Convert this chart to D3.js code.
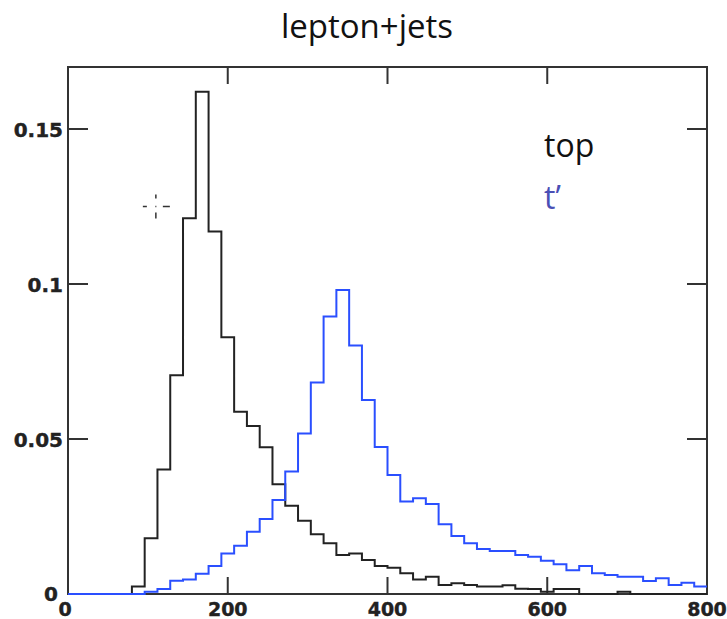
<!DOCTYPE html>
<html>
<head>
<meta charset="utf-8">
<script src="https://cdn.jsdelivr.net/npm/d3@7"></script>
<style>
  body { margin: 0; background: #fff; }
  svg { display: block; }
</style>
</head>
<body>
<div id="chart"></div>
<script>
// histogram: 50 bins of width 16 over [0, 800]
const binEdges = d3.range(0, 801, 16);
const topValues = [
  0, 0, 0, 0, 0, 0.0024, 0.018, 0.0402, 0.0706, 0.1212,
  0.162, 0.1169, 0.0828, 0.0588, 0.0542, 0.0473, 0.0354, 0.0285, 0.0236, 0.0193,
  0.0164, 0.0126, 0.0131, 0.011, 0.009, 0.0085, 0.0067, 0.0047, 0.0056, 0.0029,
  0.0035, 0.0029, 0.0024, 0.0024, 0.0028, 0.0017, 0.0016, 0.0007, 0.0016, 0.0016,
  0, 0, 0, 0.0007, 0, 0, 0, 0, 0, 0
];
const tprimeValues = [
  0, 0, 0, 0, 0, 0, 0.0007, 0.0016, 0.0043, 0.0047,
  0.0065, 0.009, 0.0131, 0.0156, 0.0201, 0.0242, 0.0303, 0.0395, 0.0518, 0.0682,
  0.0895, 0.0981, 0.0802, 0.0626, 0.0474, 0.0384, 0.0298, 0.0309, 0.029, 0.0225,
  0.0187, 0.0164, 0.0145, 0.0139, 0.0139, 0.0126, 0.012, 0.0107, 0.0096, 0.0077,
  0.009, 0.0067, 0.0061, 0.0056, 0.0056, 0.0042, 0.0051, 0.0029, 0.0036, 0.0024
];
const xTicks = [0, 200, 400, 600, 800];
const yTicks = [0, 0.05, 0.1, 0.15];
const legendLabels = ["top", "t\u2019"];
const title = "lepton+jets";

const width = 727, height = 619;
const margin = { top: 67, right: 20, bottom: 25, left: 68 };

const svg = d3.select("#chart").append("svg")
  .attr("width", width)
  .attr("height", height);

const x = d3.scaleLinear().domain([0, 800]).range([margin.left, width - margin.right]);
const y = d3.scaleLinear().domain([0, 0.17]).range([height - margin.bottom, margin.top]);

const x0 = x.range()[0], x1 = x.range()[1];
const y0 = y.range()[0], y1 = y.range()[1];

// frame
svg.append("rect")
  .attr("x", x0).attr("y", y1)
  .attr("width", x1 - x0).attr("height", y0 - y1)
  .attr("fill", "none").attr("stroke", "#333").attr("stroke-width", 2);

// ticks (inward, ROOT style)
const tickG = svg.append("g").attr("stroke", "#333").attr("stroke-width", 2);
xTicks.slice(1, -1).forEach(t => {
  tickG.append("line").attr("x1", x(t)).attr("x2", x(t)).attr("y1", y0).attr("y2", y0 - 17);
  tickG.append("line").attr("x1", x(t)).attr("x2", x(t)).attr("y1", y1).attr("y2", y1 + 17);
});
yTicks.slice(1).forEach(t => {
  tickG.append("line").attr("x1", x0).attr("x2", x0 + 20).attr("y1", y(t)).attr("y2", y(t));
  tickG.append("line").attr("x1", x1).attr("x2", x1 - 20).attr("y1", y(t)).attr("y2", y(t));
});

// tick labels
const labelFont = "DejaVu Sans, sans-serif";
svg.append("g").selectAll("text").data(xTicks).join("text")
  .attr("x", d => x(d) + (d === 0 ? -3 : 0))
  .attr("y", 616)
  .attr("text-anchor", "middle")
  .attr("font-family", labelFont).attr("font-weight", "bold").attr("font-size", 19)
  .attr("fill", "#222").attr("stroke", "#222").attr("stroke-width", 0.4)
  .text(d => d);
svg.append("g").selectAll("text").data(yTicks).join("text")
  .attr("x", d => d === 0 ? 58 : 63)
  .attr("y", d => y(d) + (d === 0 ? 7 : 7.5))
  .attr("text-anchor", "end")
  .attr("font-family", labelFont).attr("font-weight", "bold").attr("font-size", 20)
  .attr("fill", "#222").attr("stroke", "#222").attr("stroke-width", 0.4)
  .text(d => d === 0 ? "0" : String(d));

// step histograms
const stepPath = vals => {
  let p = d3.path();
  p.moveTo(x(binEdges[0]), y(vals[0]));
  vals.forEach((v, i) => {
    if (i > 0) p.lineTo(x(binEdges[i]), y(v));
    p.lineTo(x(binEdges[i + 1]), y(v));
  });
  return p.toString();
};

svg.append("path")
  .attr("d", stepPath(topValues))
  .attr("fill", "none").attr("stroke", "#222").attr("stroke-width", 2);
svg.append("path")
  .attr("d", stepPath(tprimeValues))
  .attr("fill", "none").attr("stroke", "#2a4fff").attr("stroke-width", 2);

// small crosshair marker
const cx = x(110), cy = y(0.125);
svg.append("path")
  .attr("d", `M${cx - 13},${cy}H${cx - 9}M${cx - 0.5},${cy}H${cx + 0.5}M${cx + 7},${cy}H${cx + 14}` +
             `M${cx},${cy - 12}V${cy - 8}M${cx},${cy + 6}V${cy + 12}`)
  .attr("stroke", "#333").attr("stroke-width", 1.5);

// title
svg.append("text")
  .attr("x", 367).attr("y", 38)
  .attr("text-anchor", "middle")
  .attr("font-family", "Open Sans, sans-serif").attr("font-size", 33)
  .attr("fill", "#111")
  .text(title);

// legend
svg.append("g").selectAll("text").data(legendLabels).join("text")
  .attr("x", 544)
  .attr("y", (d, i) => 157 + i * 52)
  .attr("font-family", "Open Sans, sans-serif").attr("font-size", 32)
  .attr("fill", (d, i) => i === 0 ? "#111" : "#4a4fb5")
  .text(d => d);
</script>
</body>
</html>
